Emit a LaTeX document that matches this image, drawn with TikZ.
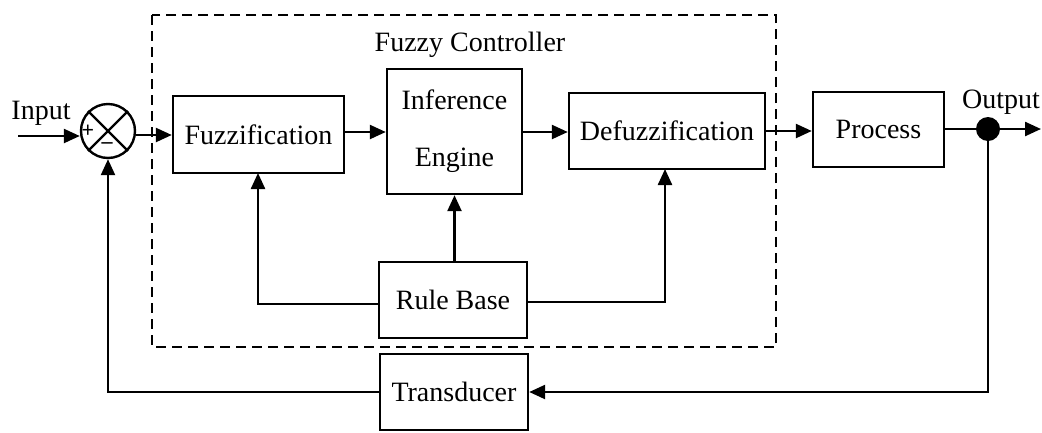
\documentclass[tikz,border=0pt]{standalone}
\usepackage{fontspec}
\setmainfont{Liberation Serif}
\usetikzlibrary{arrows.meta}
\begin{document}
\begin{tikzpicture}[x=1pt,y=-1pt,
  line width=2.4pt,
  every node/.style={font=\fontsize{28}{34}\selectfont},
  block/.style={draw,rectangle,inner sep=0pt,line width=2.4pt},
  conn/.style={line width=2.4pt,-{Triangle[length=16pt,width=14pt]}},
  wire/.style={line width=2.4pt},
  ctrlframe/.style={draw,line width=2.4pt,dash pattern=on 10pt off 6pt}]
\useasboundingbox (0,0) rectangle (1042,432);

% controller frame
\draw[ctrlframe] (152,15) rectangle (776,347);
\node (title) at (470,45) {Fuzzy Controller};

% blocks
\node[block,minimum width=171pt,minimum height=77pt] (fuz) at (258.5,134.5) {Fuzzification};
\node[block,minimum width=135pt,minimum height=125pt,align=center,
      font=\fontsize{28}{57}\selectfont] (inf) at (454.5,131.5) {Inference\\Engine};
\node[block,minimum width=196pt,minimum height=76pt] (defuz) at (667,131) {Defuzzification};
\node[block,minimum width=131pt,minimum height=75pt] (proc) at (878.5,129.5) {Process};
\node[block,minimum width=148pt,minimum height=76pt] (rule) at (453,300) {Rule Base};
\node[block,minimum width=148pt,minimum height=76pt] (trans) at (454,392) {Transducer};

% summing junction
\node[draw,circle,line width=2.4pt,minimum size=54pt,inner sep=0pt] (sum) at (108,131) {};
\draw[wire] (sum.north west) -- (sum.south east);
\draw[wire] (sum.north east) -- (sum.south west);
\node[font=\fontsize{22}{22}\selectfont\bfseries,inner sep=0pt] (plus) at (88,131) {+};
\node[font=\fontsize{22}{22}\selectfont\bfseries,inner sep=0pt] (minus) at (107,146) {\textendash};

% take-off point
\fill (988,129) circle (12pt) coordinate (tap);
\node (outlbl) at (1001,102) {Output};
\coordinate (outend) at (1041,129);

% input
\node (inlbl) at (41,113) {Input};
\coordinate (instart) at (18,136);

% forward path
\draw[conn] (instart) -- (sum.west |- instart);
\draw[conn] (sum.east |- 0,135) -- (fuz.west |- 0,135);
\draw[conn] (fuz.east |- 0,132) -- (inf.west |- 0,132);
\draw[conn] (inf.east |- 0,132) -- (defuz.west |- 0,132);
\draw[conn] (defuz.east |- 0,131) -- (proc.west |- 0,131);
\draw[wire] (proc.east |- tap) -- (tap);
\draw[conn] (tap) -- (outend);

% rule base links
\draw[conn] (rule.north -| inf.south) -- (inf.south);
\draw[conn] (rule.west |- 0,304) -- (258,304) -- (258,173);
\draw[conn] (rule.east |- 0,302) -- (665,302) -- (665,169);

% feedback path
\draw[conn] (tap) -- (988,392) -- (trans.east);
\draw[conn] (trans.west) -- (108,392) -- (sum.south);
\end{tikzpicture}
\end{document}
